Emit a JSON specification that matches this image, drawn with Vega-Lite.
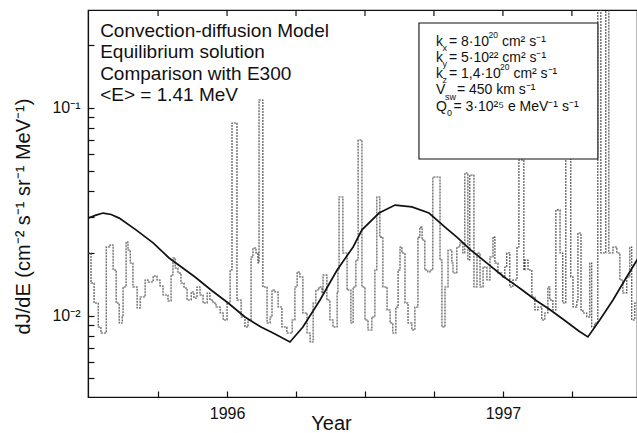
{
  "$schema": "https://vega.github.io/schema/vega-lite/v6.json",
  "width": 549,
  "height": 387,
  "autosize": {"type": "none"},
  "padding": {"left": 88, "top": 10, "right": 0, "bottom": 36},
  "background": "white",
  "config": {
    "view": {"stroke": "#111", "strokeWidth": 1.2},
    "font": "Liberation Sans",
    "axis": {"grid": false, "domainColor": "#111", "domainWidth": 1.2, "tickColor": "#111", "tickWidth": 1.2, "labelColor": "#111", "titleColor": "#111", "labelFont": "Liberation Sans", "titleFont": "Liberation Sans", "titleFontWeight": "normal"}
  },
  "encoding": {
    "x": {
      "field": "t", "type": "quantitative",
      "scale": {"domain": [1995.496, 1997.486], "nice": false, "zero": false},
      "axis": {
        "orient": "bottom",
        "values": [1995.75, 1996, 1996.25, 1996.5, 1996.75, 1997, 1997.25],
        "labelExpr": "datum.value == 1996 ? '1996' : datum.value == 1997 ? '1997' : ''",
        "tickSize": -6, "labelPadding": 14, "labelFontSize": 16,
        "title": "Year", "titleFontSize": 20, "titleX": 243, "titleY": 26,
        "titleBaseline": "middle", "titleAlign": "center"
      }
    },
    "y": {
      "field": "v", "type": "quantitative",
      "scale": {"type": "log", "domain": [0.00406, 0.2963], "nice": false},
      "axis": {
        "orient": "left",
        "values": [0.005, 0.006, 0.007, 0.008, 0.009, 0.01, 0.02, 0.03, 0.04, 0.05, 0.06, 0.07, 0.08, 0.09, 0.1, 0.2],
        "labelExpr": "datum.value == 0.1 ? '10⁻¹' : datum.value == 0.01 ? '10⁻²' : ''",
        "tickSize": -6,
        "labelPadding": 14, "labelFontSize": 16,
        "title": "dJ/dE (cm⁻² s⁻¹ sr⁻¹ MeV⁻¹)", "titleFontSize": 20,
        "titleX": -65, "titleY": 206, "titleAngle": 270, "titleAlign": "center", "titleBaseline": "middle"
      }
    }
  },
  "layer": [
    {
      "data": {"values": [
        {"t": 1995.496, "v": 0.02004}, {"t": 1995.507, "v": 0.01437}, {"t": 1995.518, "v": 0.01151}, {"t": 1995.533, "v": 0.00882},
        {"t": 1995.543, "v": 0.00825}, {"t": 1995.562, "v": 0.02142}, {"t": 1995.576, "v": 0.0219}, {"t": 1995.587, "v": 0.0166},
        {"t": 1995.598, "v": 0.01151}, {"t": 1995.609, "v": 0.00922}, {"t": 1995.620, "v": 0.00986}, {"t": 1995.623, "v": 0.01375},
        {"t": 1995.634, "v": 0.02264}, {"t": 1995.641, "v": 0.0207}, {"t": 1995.649, "v": 0.01794}, {"t": 1995.659, "v": 0.01375},
        {"t": 1995.674, "v": 0.01089}, {"t": 1995.685, "v": 0.0123}, {"t": 1995.703, "v": 0.01485}, {"t": 1995.714, "v": 0.01453},
        {"t": 1995.732, "v": 0.01553}, {"t": 1995.746, "v": 0.01485}, {"t": 1995.757, "v": 0.0139}, {"t": 1995.768, "v": 0.01258},
        {"t": 1995.786, "v": 0.01177}, {"t": 1995.797, "v": 0.0157}, {"t": 1995.804, "v": 0.01896}, {"t": 1995.812, "v": 0.01697},
        {"t": 1995.822, "v": 0.01606}, {"t": 1995.833, "v": 0.01437}, {"t": 1995.844, "v": 0.0136}, {"t": 1995.855, "v": 0.0119},
        {"t": 1995.870, "v": 0.013}, {"t": 1995.880, "v": 0.01217}, {"t": 1995.891, "v": 0.01375}, {"t": 1995.902, "v": 0.01258},
        {"t": 1995.913, "v": 0.01151}, {"t": 1995.928, "v": 0.01286}, {"t": 1995.938, "v": 0.0119}, {"t": 1995.949, "v": 0.01151},
        {"t": 1995.960, "v": 0.01101}, {"t": 1995.975, "v": 0.0103}, {"t": 1995.986, "v": 0.00954}, {"t": 1996.000, "v": 0.01151},
        {"t": 1996.011, "v": 0.0166}, {"t": 1996.018, "v": 0.0847}, {"t": 1996.036, "v": 0.0119}, {"t": 1996.051, "v": 0.00986},
        {"t": 1996.065, "v": 0.00882}, {"t": 1996.076, "v": 0.00954}, {"t": 1996.087, "v": 0.01917}, {"t": 1996.094, "v": 0.02118},
        {"t": 1996.105, "v": 0.02004}, {"t": 1996.112, "v": 0.01794}, {"t": 1996.116, "v": 0.1093}, {"t": 1996.130, "v": 0.01375},
        {"t": 1996.145, "v": 0.00922}, {"t": 1996.156, "v": 0.00986}, {"t": 1996.163, "v": 0.01329}, {"t": 1996.174, "v": 0.013},
        {"t": 1996.185, "v": 0.01101}, {"t": 1996.199, "v": 0.00882}, {"t": 1996.217, "v": 0.00825}, {"t": 1996.236, "v": 0.00954},
        {"t": 1996.246, "v": 0.01375}, {"t": 1996.254, "v": 0.01624}, {"t": 1996.264, "v": 0.01536}, {"t": 1996.275, "v": 0.0103},
        {"t": 1996.290, "v": 0.00825}, {"t": 1996.301, "v": 0.00747}, {"t": 1996.312, "v": 0.01151}, {"t": 1996.322, "v": 0.01329},
        {"t": 1996.333, "v": 0.01375}, {"t": 1996.344, "v": 0.01286}, {"t": 1996.348, "v": 0.0157}, {"t": 1996.362, "v": 0.0119},
        {"t": 1996.373, "v": 0.00954}, {"t": 1996.384, "v": 0.00882}, {"t": 1996.399, "v": 0.01286}, {"t": 1996.402, "v": 0.0166},
        {"t": 1996.406, "v": 0.0373}, {"t": 1996.420, "v": 0.02004}, {"t": 1996.435, "v": 0.01329}, {"t": 1996.449, "v": 0.00922},
        {"t": 1996.457, "v": 0.01375}, {"t": 1996.467, "v": 0.01854}, {"t": 1996.475, "v": 0.0701}, {"t": 1996.489, "v": 0.01375},
        {"t": 1996.500, "v": 0.00954}, {"t": 1996.511, "v": 0.00853}, {"t": 1996.525, "v": 0.00986}, {"t": 1996.536, "v": 0.0166},
        {"t": 1996.543, "v": 0.0373}, {"t": 1996.554, "v": 0.0239}, {"t": 1996.565, "v": 0.01375}, {"t": 1996.580, "v": 0.01065},
        {"t": 1996.591, "v": 0.00922}, {"t": 1996.601, "v": 0.00825}, {"t": 1996.612, "v": 0.01101}, {"t": 1996.620, "v": 0.0166},
        {"t": 1996.627, "v": 0.02142}, {"t": 1996.634, "v": 0.02004}, {"t": 1996.645, "v": 0.01151}, {"t": 1996.656, "v": 0.00922},
        {"t": 1996.670, "v": 0.00853}, {"t": 1996.681, "v": 0.01101}, {"t": 1996.692, "v": 0.0239}, {"t": 1996.699, "v": 0.0267},
        {"t": 1996.707, "v": 0.02314}, {"t": 1996.717, "v": 0.0166}, {"t": 1996.728, "v": 0.01624}, {"t": 1996.736, "v": 0.0166},
        {"t": 1996.746, "v": 0.0465}, {"t": 1996.772, "v": 0.01854}, {"t": 1996.779, "v": 0.00882}, {"t": 1996.790, "v": 0.01375},
        {"t": 1996.801, "v": 0.0207}, {"t": 1996.815, "v": 0.01794}, {"t": 1996.819, "v": 0.01606}, {"t": 1996.833, "v": 0.02142},
        {"t": 1996.844, "v": 0.0224}, {"t": 1996.855, "v": 0.02004}, {"t": 1996.862, "v": 0.0486}, {"t": 1996.873, "v": 0.01854},
        {"t": 1996.880, "v": 0.0476}, {"t": 1996.895, "v": 0.01375}, {"t": 1996.906, "v": 0.02004}, {"t": 1996.917, "v": 0.01375},
        {"t": 1996.928, "v": 0.01716}, {"t": 1996.942, "v": 0.01485}, {"t": 1996.953, "v": 0.01917}, {"t": 1996.964, "v": 0.0239},
        {"t": 1996.971, "v": 0.01794}, {"t": 1996.982, "v": 0.01606}, {"t": 1996.996, "v": 0.01536}, {"t": 1997.007, "v": 0.01716},
        {"t": 1997.014, "v": 0.02004}, {"t": 1997.025, "v": 0.01375}, {"t": 1997.036, "v": 0.01485}, {"t": 1997.051, "v": 0.02142},
        {"t": 1997.058, "v": 0.0562}, {"t": 1997.076, "v": 0.0166}, {"t": 1997.080, "v": 0.01854}, {"t": 1997.091, "v": 0.0166},
        {"t": 1997.105, "v": 0.0123}, {"t": 1997.116, "v": 0.01065}, {"t": 1997.127, "v": 0.01101}, {"t": 1997.141, "v": 0.00954},
        {"t": 1997.152, "v": 0.0103}, {"t": 1997.163, "v": 0.01375}, {"t": 1997.170, "v": 0.0119}, {"t": 1997.181, "v": 0.01065},
        {"t": 1997.192, "v": 0.0323}, {"t": 1997.207, "v": 0.02004}, {"t": 1997.217, "v": 0.01151}, {"t": 1997.228, "v": 0.0574},
        {"t": 1997.246, "v": 0.01536}, {"t": 1997.254, "v": 0.01101}, {"t": 1997.268, "v": 0.0119}, {"t": 1997.272, "v": 0.025},
        {"t": 1997.283, "v": 0.01065}, {"t": 1997.290, "v": 0.0103}, {"t": 1997.304, "v": 0.00986}, {"t": 1997.315, "v": 0.01794},
        {"t": 1997.322, "v": 0.00882}, {"t": 1997.333, "v": 0.00922}, {"t": 1997.344, "v": 0.4}, {"t": 1997.355, "v": 0.02004},
        {"t": 1997.373, "v": 0.4}, {"t": 1997.384, "v": 0.02004}, {"t": 1997.399, "v": 0.02142}, {"t": 1997.413, "v": 0.02004},
        {"t": 1997.424, "v": 0.01485}, {"t": 1997.435, "v": 0.01286}, {"t": 1997.449, "v": 0.01536}, {"t": 1997.460, "v": 0.02142},
        {"t": 1997.467, "v": 0.00954}, {"t": 1997.478, "v": 0.01151}, {"t": 1997.490, "v": 0.0119}
      ]},
      "mark": {"type": "line", "interpolate": "step-after", "clip": true, "color": "#444", "strokeWidth": 1.1, "strokeDash": [2, 1]}
    },
    {
      "data": {"values": [
        {"t": 1995.496, "v": 0.0295}, {"t": 1995.525, "v": 0.0305}, {"t": 1995.551, "v": 0.0312}, {"t": 1995.580, "v": 0.0307},
        {"t": 1995.609, "v": 0.0295}, {"t": 1995.670, "v": 0.0259}, {"t": 1995.732, "v": 0.0224}, {"t": 1995.790, "v": 0.01896},
        {"t": 1995.884, "v": 0.01536}, {"t": 1995.942, "v": 0.01329}, {"t": 1996.004, "v": 0.01151}, {"t": 1996.065, "v": 0.00986},
        {"t": 1996.123, "v": 0.00882}, {"t": 1996.167, "v": 0.00825}, {"t": 1996.228, "v": 0.00747}, {"t": 1996.275, "v": 0.00882},
        {"t": 1996.337, "v": 0.0119}, {"t": 1996.399, "v": 0.0166}, {"t": 1996.457, "v": 0.02142}, {"t": 1996.489, "v": 0.0259},
        {"t": 1996.551, "v": 0.0312}, {"t": 1996.609, "v": 0.0341}, {"t": 1996.670, "v": 0.0334}, {"t": 1996.732, "v": 0.0312},
        {"t": 1996.790, "v": 0.0267}, {"t": 1996.833, "v": 0.0239}, {"t": 1996.884, "v": 0.0207}, {"t": 1996.942, "v": 0.0179},
        {"t": 1997.004, "v": 0.01536}, {"t": 1997.065, "v": 0.01345}, {"t": 1997.123, "v": 0.01177}, {"t": 1997.167, "v": 0.01077},
        {"t": 1997.217, "v": 0.00964}, {"t": 1997.275, "v": 0.00844}, {"t": 1997.308, "v": 0.0079}, {"t": 1997.351, "v": 0.00954},
        {"t": 1997.399, "v": 0.0119}, {"t": 1997.442, "v": 0.01485}, {"t": 1997.486, "v": 0.01854}, {"t": 1997.533, "v": 0.0234}
      ]},
      "mark": {"type": "line", "color": "#111", "strokeWidth": 1.7, "clip": true}
    },
    {
      "data": {"values": [
        {"t": 1995.75, "v": 0.2963}, {"t": 1996, "v": 0.2963}, {"t": 1996.25, "v": 0.2963}, {"t": 1996.5, "v": 0.2963},
        {"t": 1996.75, "v": 0.2963}, {"t": 1997, "v": 0.2963}, {"t": 1997.25, "v": 0.2963}
      ]},
      "mark": {"type": "point", "shape": "M0,0V1", "size": 144, "filled": false, "stroke": "#111", "strokeWidth": 1.2, "opacity": 1}
    },
    {
      "data": {"values": [{"t": 1996.6957, "t2": 1997.3442, "v": 0.2566, "v2": 0.0568}]},
      "mark": {"type": "rect", "fill": "white", "stroke": "#111", "strokeWidth": 1.1},
      "encoding": {"x2": {"field": "t2"}, "y2": {"field": "v2"}}
    },
    {
      "data": {"values": [
        {"t": 1995.540, "v": 0.2348, "label": "Convection-diffusion Model"},
        {"t": 1995.540, "v": 0.1861, "label": "Equilibrium solution"},
        {"t": 1995.540, "v": 0.1458, "label": "Comparison with E300"},
        {"t": 1995.540, "v": 0.1155, "label": "<E> = 1.41 MeV"}
      ]},
      "mark": {"type": "text", "align": "left", "baseline": "middle", "fontSize": 19, "font": "Liberation Sans", "color": "#111"},
      "encoding": {"text": {"field": "label"}}
    },
    {
      "data": {"values": [
        {"t": 1996.7572, "v": 0.2078, "label": "k"}, {"t": 1996.8043, "v": 0.2078, "label": "= 8·10"}, {"t": 1996.9964, "v": 0.2078, "label": "cm² s⁻¹"},
        {"t": 1996.7572, "v": 0.1741, "label": "k"}, {"t": 1996.8043, "v": 0.1741, "label": "= 5·10²² cm² s⁻¹"},
        {"t": 1996.7572, "v": 0.1458, "label": "k"}, {"t": 1996.8043, "v": 0.1458, "label": "= 1,4·10"}, {"t": 1997.0380, "v": 0.1458, "label": "cm² s⁻¹"},
        {"t": 1996.7572, "v": 0.1214, "label": "V"}, {"t": 1996.8333, "v": 0.1214, "label": "= 450 km s⁻¹"},
        {"t": 1996.7572, "v": 0.1011, "label": "Q"}, {"t": 1996.8207, "v": 0.1011, "label": "= 3·10²⁵ e MeV⁻¹ s⁻¹"}
      ]},
      "mark": {"type": "text", "align": "left", "baseline": "middle", "fontSize": 14, "font": "Liberation Sans", "color": "#111"},
      "encoding": {"text": {"field": "label"}}
    },
    {
      "data": {"values": [
        {"t": 1996.9475, "v": 0.2246, "label": "20"},
        {"t": 1996.9891, "v": 0.1576, "label": "20"}
      ]},
      "mark": {"type": "text", "align": "left", "baseline": "middle", "fontSize": 8.5, "font": "Liberation Sans", "color": "#111"},
      "encoding": {"text": {"field": "label"}}
    },
    {
      "data": {"values": [
        {"t": 1996.7808, "v": 0.1945, "label": "x"},
        {"t": 1996.7808, "v": 0.1628, "label": "y"},
        {"t": 1996.7808, "v": 0.1364, "label": "z"},
        {"t": 1996.7899, "v": 0.1130, "label": "sw"},
        {"t": 1996.7971, "v": 0.0941, "label": "0"}
      ]},
      "mark": {"type": "text", "align": "left", "baseline": "middle", "fontSize": 9, "font": "Liberation Sans", "color": "#111"},
      "encoding": {"text": {"field": "label"}}
    }
  ]
}
